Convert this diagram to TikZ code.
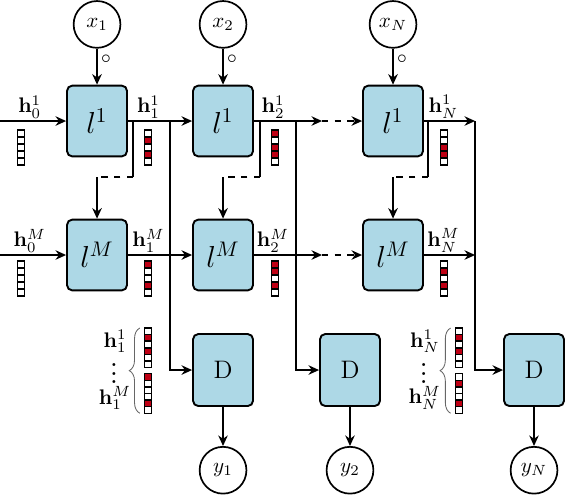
\documentclass[tikz,border=0pt]{standalone}
\usepackage{amsmath}
\usepackage{tikz}
\usetikzlibrary{arrows.meta,positioning,calc,decorations.pathreplacing}

\definecolor{unitblue}{RGB}{173,216,230}
\definecolor{cellred}{RGB}{190,0,20}

% column of cells: x centre, top y, cell height, list of fill colours
\newcommand{\hvec}[4]{%
  \foreach \c [count=\i from 0] in {#4}
    \draw[cellbox, fill=\c] ({#1-0.06},{#2-\i*#3}) rectangle ++(0.12,-#3);
}

\begin{document}
\begin{tikzpicture}[
  >={Stealth[length=5pt,width=4.5pt]},
  unit/.style={draw, fill=unitblue, rounded corners=2.5pt, line width=0.9pt, minimum width=1cm, minimum height=1.18cm, inner sep=0pt, font=\Large},
  dec/.style={unit, minimum height=1.2cm, font=\large},
  var/.style={draw, circle, line width=0.8pt, minimum size=0.78cm, inner sep=0pt},
  flow/.style={->, line width=0.8pt},
  wire/.style={line width=0.8pt},
  gap/.style={line width=0.8pt, dashed},
  hlbl/.style={above, inner sep=1pt},
  gate/.style={right, inner sep=1.5pt, font=\small},
  cellbox/.style={draw=black, line width=0.7pt},
  stack/.style={black!60, decorate, decoration={brace, amplitude=5pt}},
  dots/.style={inner sep=0pt, font=\bfseries\small},
]
\useasboundingbox (0,0) rectangle (9.433,8.25);
\def\ca{1.617}
\def\cb{3.717}
\def\cn{6.55}
\def\ya{6.233}
\def\yb{4.0}

% ---- recurrent units ----
\node[unit] (l11) at (\ca,\ya) {$l^1$};
\node[unit] (l12) at (\cb,\ya) {$l^1$};
\node[unit] (l1N) at (\cn,\ya) {$l^1$};
\node[unit] (lM1) at (\ca,\yb) {$l^M$};
\node[unit] (lM2) at (\cb,\yb) {$l^M$};
\node[unit] (lMN) at (\cn,\yb) {$l^M$};

% ---- inputs ----
\node[var, above=0.6cm of l11] (x1) {$x_1$};
\node[var, above=0.6cm of l12] (x2) {$x_2$};
\node[var, above=0.6cm of l1N] (xN) {$x_N$};

% ---- decoders and outputs ----
\node[dec] (d1) at (3.717,2.083) {D};
\node[dec] (d2) at (5.833,2.083) {D};
\node[dec] (dN) at (8.9,2.083)   {D};
\node[var, below=0.65cm of d1] (y1) {$y_1$};
\node[var, below=0.65cm of d2] (y2) {$y_2$};
\node[var, below=0.65cm of dN] (yN) {$y_N$};

% ---- free ends ----
\coordinate (in1) at (0,\ya);
\coordinate (inM) at (0,\yb);
\coordinate (m1)  at (5.367,\ya);
\coordinate (mM)  at (5.367,\yb);
\coordinate (e1)  at (7.917,\ya);
\coordinate (eM)  at (7.917,\yb);

% ---- inputs into first layer ----
\foreach \c in {1,2,N}
  \draw[flow] (x\c) -- node[gate, pos=0.3] {$\circ$} (l1\c);

% ---- horizontal flows ----
\draw[flow] (in1) -- node[hlbl, pos=0.45] {$\mathbf{h}_0^1$} (l11);
\draw[flow] (inM) -- node[hlbl, pos=0.45] {$\mathbf{h}_0^M$} (lM1);
\draw[flow] (l11) -- node[hlbl, pos=0.32] {$\mathbf{h}_1^1$} (l12);
\draw[flow] (lM1) -- node[hlbl, pos=0.32] {$\mathbf{h}_1^M$} (lM2);
\draw[flow] (l12) -- node[hlbl, pos=0.28] {$\mathbf{h}_2^1$} (m1);
\draw[flow] (lM2) -- node[hlbl, pos=0.28] {$\mathbf{h}_2^M$} (mM);
\draw[flow, dashed] (m1) -- (l1N);
\draw[flow, dashed] (mM) -- (lMN);
\draw[flow] (l1N) -- node[hlbl, pos=0.38] {$\mathbf{h}_N^1$} (e1);
\draw[flow] (lMN) -- node[hlbl, pos=0.38] {$\mathbf{h}_N^M$} (eM);

% ---- layer-to-layer taps ----
\foreach \c/\t in {1/2.217, 2/4.333, N/7.133} {
  \coordinate (t\c) at (\t,\ya);
  \coordinate (k\c) at (\t,5.3);
  \draw[wire] (t\c) -- (k\c);
  \draw[gap] (k\c) -- (k\c -| lM\c);
  \draw[flow] (k\c -| lM\c) -- (lM\c);
}

% ---- taps into decoders ----
\foreach \c/\v in {1/2.833, 2/4.933, N/7.917} {
  \coordinate (s\c) at (\v,\ya);
  \draw[flow] (s\c) |- (d\c);
}
\foreach \c in {1,2,N}
  \draw[flow] (d\c) -- (y\c);

% ---- state vectors ----
\hvec{0.35}{6.083}{0.117}{white,white,white,white,white}
\hvec{2.467}{6.083}{0.117}{white,cellred,white,cellred,white}
\hvec{4.583}{6.083}{0.117}{cellred,white,cellred,cellred,white}
\hvec{7.4}{6.083}{0.117}{white,white,cellred,cellred,white}
\hvec{0.35}{3.9}{0.117}{white,white,white,white,white}
\hvec{2.467}{3.9}{0.117}{cellred,white,white,cellred,white}
\hvec{4.583}{3.9}{0.117}{cellred,cellred,white,cellred,white}
\hvec{7.4}{3.9}{0.117}{white,cellred,white,cellred,white}

% ---- stacked states ----
\hvec{2.467}{2.783}{0.11}{white,cellred,white,cellred,white,white}
\hvec{2.467}{2.023}{0.11}{cellred,white,white,white,cellred,white}
\hvec{7.65}{2.783}{0.11}{white,cellred,white,cellred,white,white}
\hvec{7.65}{2.023}{0.11}{white,cellred,white,white,cellred,white}
\draw[stack] (2.33,1.363) -- (2.33,2.783);
\draw[stack] (7.51,1.363) -- (7.51,2.783);
\node (a1) at (1.917,2.56)  {$\mathbf{h}_1^1$};
\node[dots] (b1) at (1.90,2.13) {$\vdots$};
\node (c1) at (1.917,1.62) {$\mathbf{h}_1^M$};
\node (aN) at (7.08,2.56)   {$\mathbf{h}_N^1$};
\node[dots] (bN) at (7.063,2.13) {$\vdots$};
\node (cN) at (7.08,1.62)  {$\mathbf{h}_N^M$};
\end{tikzpicture}
\end{document}
